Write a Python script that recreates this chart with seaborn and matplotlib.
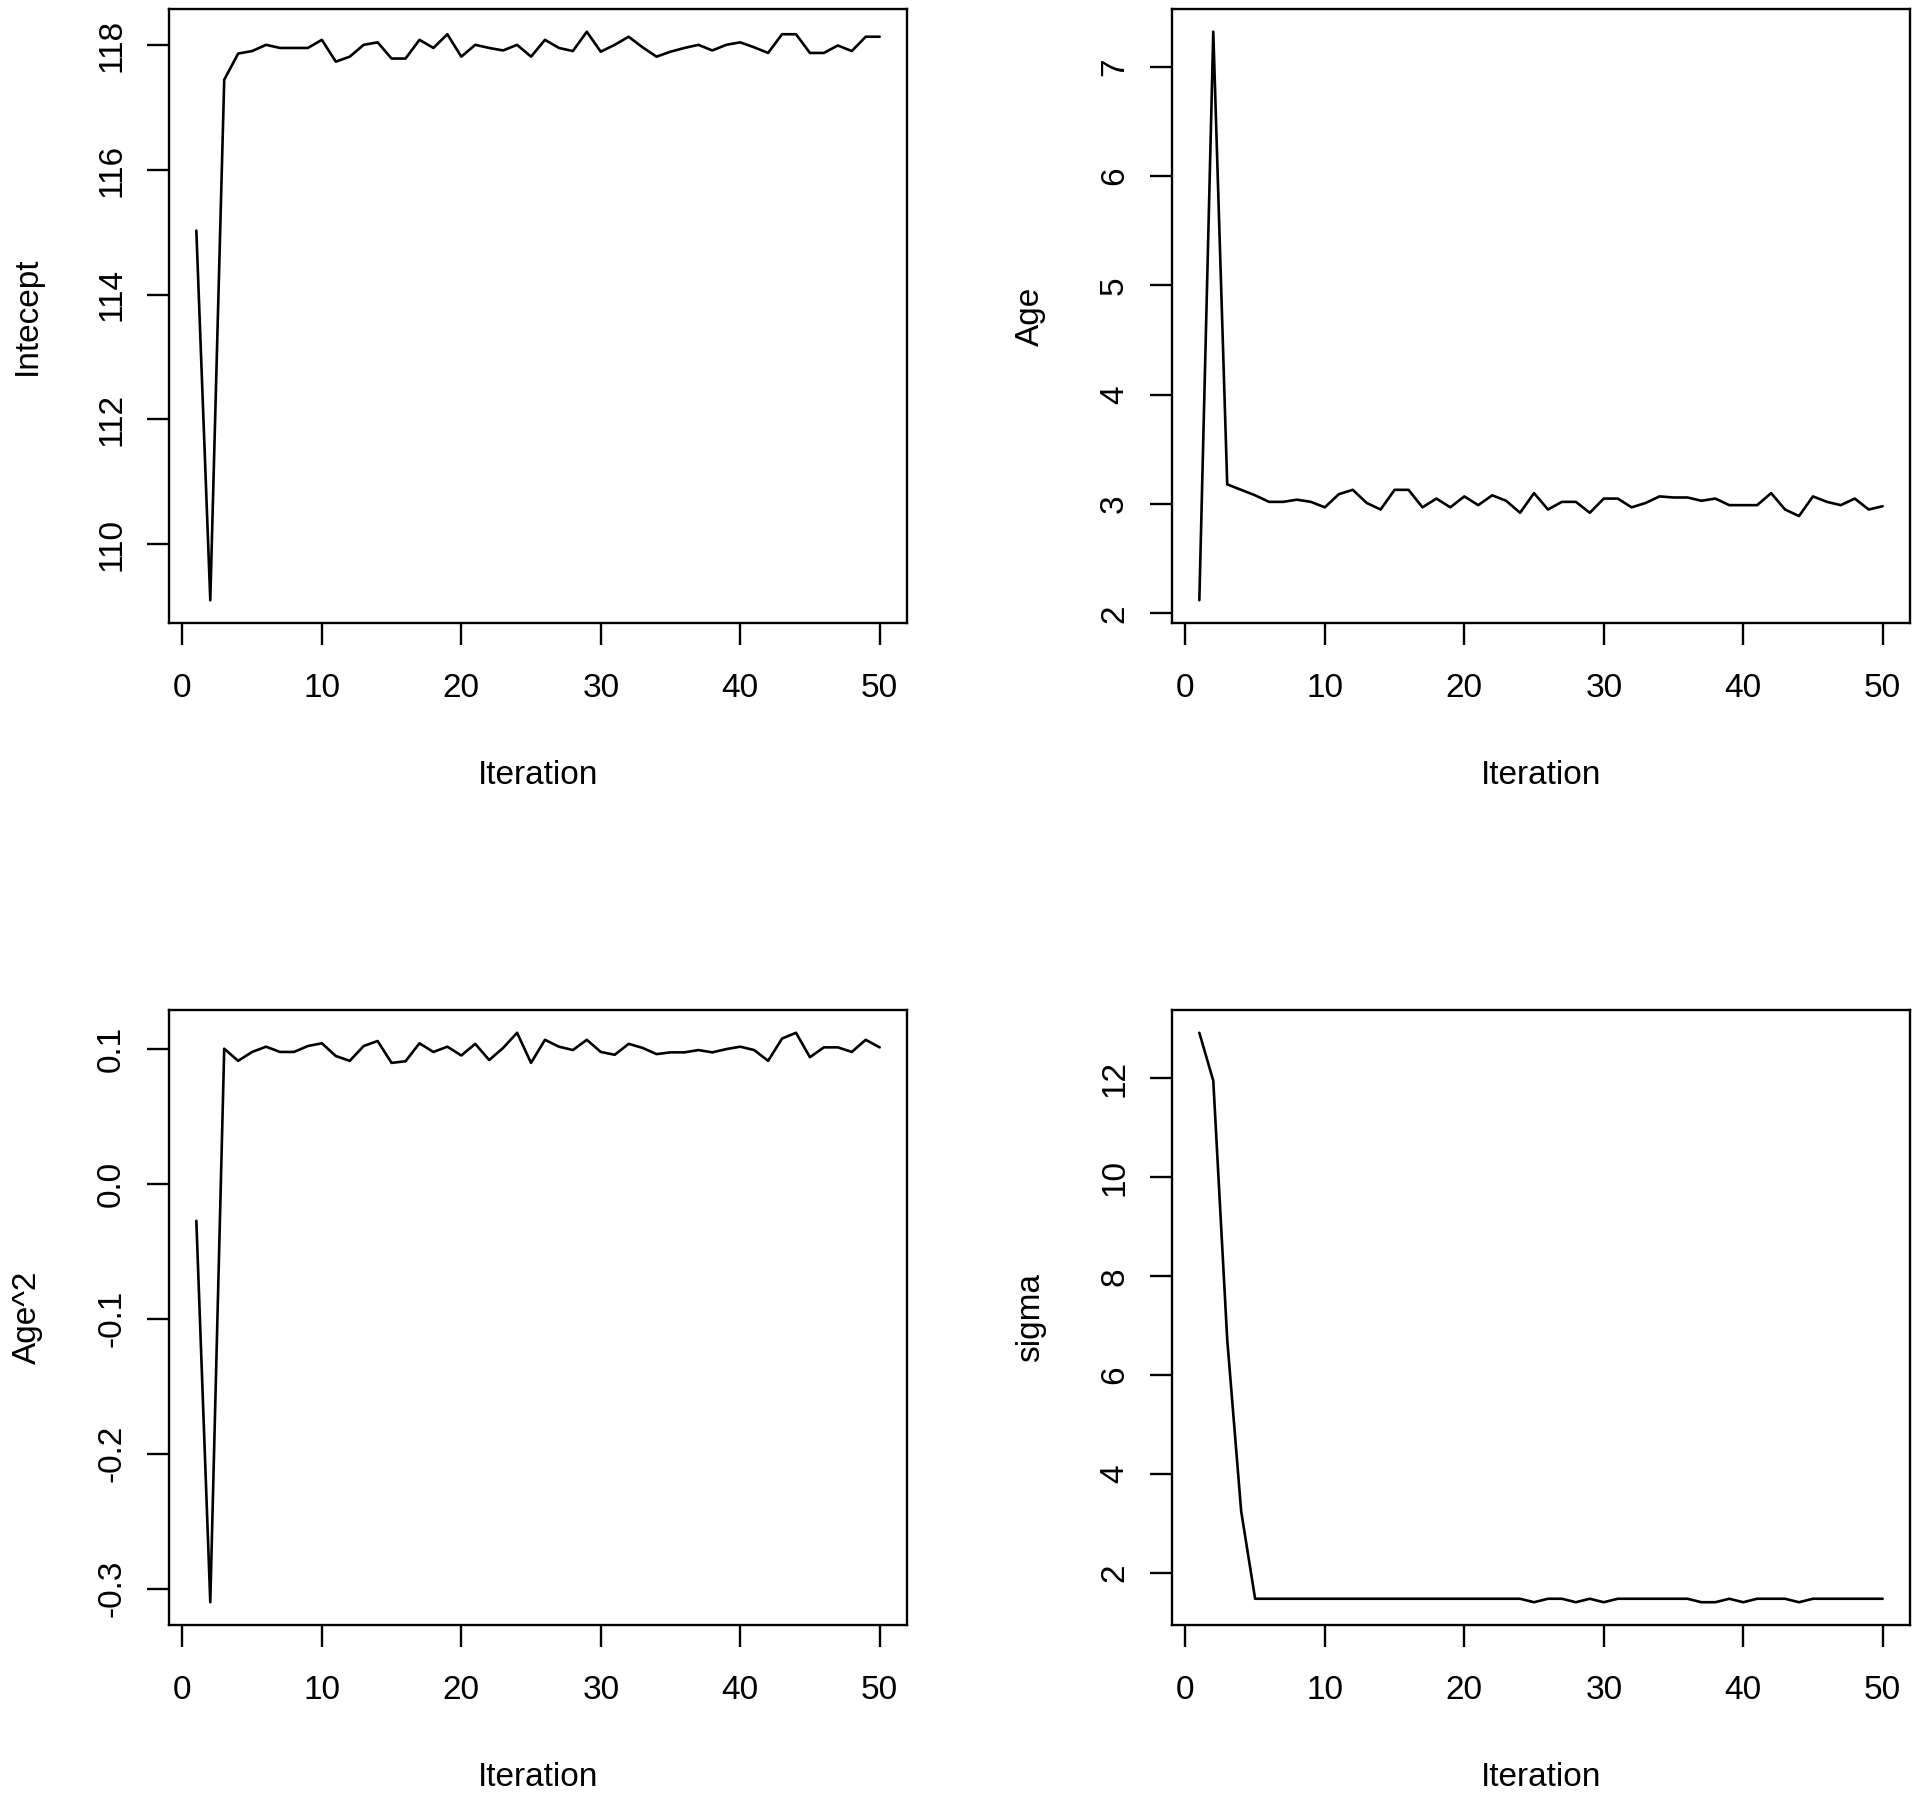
import matplotlib
matplotlib.use("Agg")
import matplotlib.pyplot as plt
import seaborn as sns
import pandas as pd

# ---------------- data ----------------
iterations = list(range(1, 51))

intercept = [115.03, 109.10, 117.45, 117.87, 117.91, 118.01, 117.96, 117.96, 117.96, 118.09,
             117.74, 117.82, 118.01, 118.05, 117.79, 117.79, 118.09, 117.96, 118.18, 117.82,
             118.01, 117.96, 117.92, 118.01, 117.82, 118.09, 117.96, 117.91, 118.22, 117.90,
             118.01, 118.14, 117.97, 117.82, 117.90, 117.96, 118.01, 117.92, 118.01, 118.05,
             117.97, 117.88, 118.18, 118.18, 117.88, 117.88, 118.00, 117.91, 118.14, 118.14]

age = [2.12, 7.32, 3.18, 3.13, 3.08, 3.02, 3.02, 3.04, 3.02, 2.97,
       3.09, 3.13, 3.01, 2.95, 3.13, 3.13, 2.97, 3.05, 2.97, 3.07,
       2.99, 3.08, 3.03, 2.92, 3.10, 2.95, 3.02, 3.02, 2.92, 3.05,
       3.05, 2.97, 3.01, 3.07, 3.06, 3.06, 3.03, 3.05, 2.99, 2.99,
       2.99, 3.10, 2.95, 2.89, 3.07, 3.02, 2.99, 3.05, 2.95, 2.98]

age_sq = [-0.0275, -0.310, 0.100, 0.091, 0.0976, 0.1015, 0.0976, 0.0976, 0.102, 0.104,
          0.0946, 0.091, 0.102, 0.1057, 0.0895, 0.0907, 0.104, 0.0976, 0.1015, 0.095,
          0.1036, 0.0916, 0.1006, 0.1118, 0.0895, 0.1066, 0.1015, 0.099, 0.1066, 0.0976,
          0.0955, 0.1036, 0.1006, 0.096, 0.0973, 0.0973, 0.099, 0.0973, 0.0997, 0.1015,
          0.099, 0.091, 0.1075, 0.1118, 0.0937, 0.101, 0.101, 0.0976, 0.1066, 0.101]

sigma = [12.92, 11.95, 6.72, 3.25, 1.48, 1.48, 1.48, 1.48, 1.48, 1.48,
         1.48, 1.48, 1.48, 1.48, 1.48, 1.48, 1.48, 1.48, 1.48, 1.48,
         1.48, 1.48, 1.48, 1.48, 1.41, 1.48, 1.48, 1.41, 1.48, 1.41,
         1.48, 1.48, 1.48, 1.48, 1.48, 1.48, 1.41, 1.41, 1.48, 1.41,
         1.48, 1.48, 1.48, 1.41, 1.48, 1.48, 1.48, 1.48, 1.48, 1.48]

xticks = [0, 10, 20, 30, 40, 50]
intercept_ticks = [110, 112, 114, 116, 118]
age_ticks = [2, 3, 4, 5, 6, 7]
age_sq_ticks = [-0.3, -0.2, -0.1, 0.0, 0.1]
age_sq_ticklabels = ["-0.3", "-0.2", "-0.1", "0.0", "0.1"]
sigma_ticks = [2, 4, 6, 8, 10, 12]
ylabels = ["Intecept", "Age", "Age^2", "sigma"]
xlabel = "Iteration"

# ---------------- style ----------------
sns.set_theme(style="white")
plt.rcParams["font.family"] = ["Liberation Sans", "DejaVu Sans"]
plt.rcParams["axes.unicode_minus"] = False

W, H = 1920, 1795
fig = plt.figure(figsize=(W / 100, H / 100), dpi=100)
fig.patch.set_facecolor("white")

# axes boxes in pixels: left, top, right, bottom
boxes = [(169, 9, 907, 623), (1172, 9, 1910, 623),
         (169, 1010, 907, 1625), (1172, 1010, 1910, 1625)]

series = [intercept, age, age_sq, sigma]
yticks_list = [intercept_ticks, age_ticks, age_sq_ticks, sigma_ticks]
yticklabels_list = [[str(t) for t in intercept_ticks], [str(t) for t in age_ticks],
                    age_sq_ticklabels, [str(t) for t in sigma_ticks]]

for (l, t, r, b), vals, yt, ytl, ylab in zip(boxes, series, yticks_list,
                                              yticklabels_list, ylabels):
    ax = fig.add_axes([l / W, 1 - b / H, (r - l) / W, (b - t) / H])
    df = pd.DataFrame({"Iteration": iterations, "value": vals})
    sns.lineplot(data=df, x="Iteration", y="value", ax=ax, color="black",
                 linewidth=1.9, errorbar=None)
    ax.margins(x=0.04, y=0.04)
    ax.autoscale_view()
    ax.set_xticks(xticks)
    ax.set_xticklabels([str(x) for x in xticks])
    ax.set_yticks(yt)
    ax.set_yticklabels(ytl)
    for s in ax.spines.values():
        s.set_visible(True)
        s.set_color("black")
        s.set_linewidth(1.7)
    ax.tick_params(axis="both", which="major", direction="out", length=15.8,
                   width=1.7, color="black", labelsize=24, labelcolor="black",
                   bottom=True, left=True)
    ax.tick_params(axis="x", pad=20.5)
    ax.tick_params(axis="y", pad=14.4, labelrotation=90)
    for lab in ax.get_yticklabels():
        lab.set_verticalalignment("center")
    ax.set_xlabel(xlabel, fontsize=24, color="black")
    ax.set_ylabel(ylab, fontsize=24, color="black")
    ax.xaxis.set_label_coords(0.5, -0.223)
    ax.yaxis.set_label_coords(-0.171, 0.5)
    ax.grid(False)
    ax.set_facecolor("white")

fig.savefig("out.png", dpi=100, facecolor="white")
